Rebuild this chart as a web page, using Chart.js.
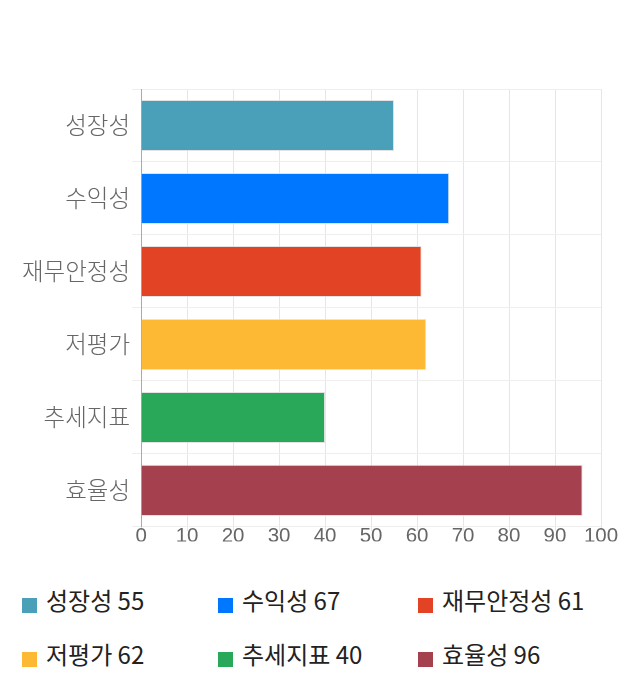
<!DOCTYPE html>
<html>
<head>
<meta charset="utf-8">
<script src="https://cdn.jsdelivr.net/npm/chart.js@4"></script>
<style>
  body { margin: 0; background: #fff; font-family: "Noto Sans CJK KR", "Noto Sans", sans-serif; }
  #wrap { position: relative; width: 640px; height: 543px; }
  #legend { position: relative; width: 640px; height: 157px; }
  .item { position: absolute; font-size: 24px; color: #222; white-space: nowrap; }
  .item span.box { position: absolute; left: 0; top: 4px; width: 15px; height: 15px; }
  .item span.txt { position: absolute; left: 24px; top: -12px; }
</style>
</head>
<body>
<div id="wrap"><canvas id="chart"></canvas></div>
<div id="legend"></div>
<script>
// categories and scores
const categories = ["성장성", "수익성", "재무안정성", "저평가", "추세지표", "효율성"];
const scores = [55, 67, 61, 62, 40, 96];
const barColors = ["#4aa0b9", "#0077ff", "#e24324", "#fdb933", "#29a85a", "#a5404f"];
const xTicks = [0, 10, 20, 30, 40, 50, 60, 70, 80, 90, 100];

const makeGraph = () => {
    var ctx = document.getElementById("chart").getContext("2d");
    new Chart(ctx, {
        type: "bar",
        data: {
            labels: categories,
            datasets: [{
                data: scores,
                backgroundColor: barColors,
                borderColor: "rgba(220,220,220,0.8)",
                borderWidth: 1,
                categoryPercentage: 0.7,
                barPercentage: 1.0,
            }],
        },
        options: {
            indexAxis: "y",
            responsive: true,
            maintainAspectRatio: false,
            animation: false,
            layout: { padding: { top: 89, right: 39, left: 20, bottom: 0 } },
            plugins: { legend: { display: false }, tooltip: { enabled: false } },
            scales: {
                x: {
                    min: 0,
                    max: 100,
                    afterBuildTicks: (axis) => { axis.ticks = xTicks.map((v) => ({ value: v })); },
                    grid: { color: "#e6e6e6", tickLength: 4, drawTicks: true },
                    border: { display: false },
                    ticks: { color: "#666", font: { family: "Liberation Sans", size: 20.5, lineHeight: 1.0 }, padding: -5 },
                },
                y: {
                    grid: { color: "#eeeeee", offset: true, tickLength: 9 },
                    border: { color: "#aaaaaa" },
                    ticks: { color: "#666", font: { family: "Noto Sans CJK KR", size: 23.5, weight: 300 }, padding: 2 },
                },
            },
        },
    });
};

const makeLegend = () => {
    const legend = document.getElementById("legend");
    const cols = [22, 218, 418];
    const rows = [51, 105];
    categories.forEach((cat, i) => {
        const item = document.createElement("div");
        item.className = "item";
        item.style.left = cols[i % 3] + "px";
        item.style.top = rows[Math.floor(i / 3)] + "px";
        item.innerHTML = '<span class="box" style="background:' + barColors[i] + '"></span>' +
            '<span class="txt">' + cat + " " + scores[i] + "</span>";
        legend.appendChild(item);
    });
};

makeGraph();
makeLegend();
</script>
</body>
</html>
